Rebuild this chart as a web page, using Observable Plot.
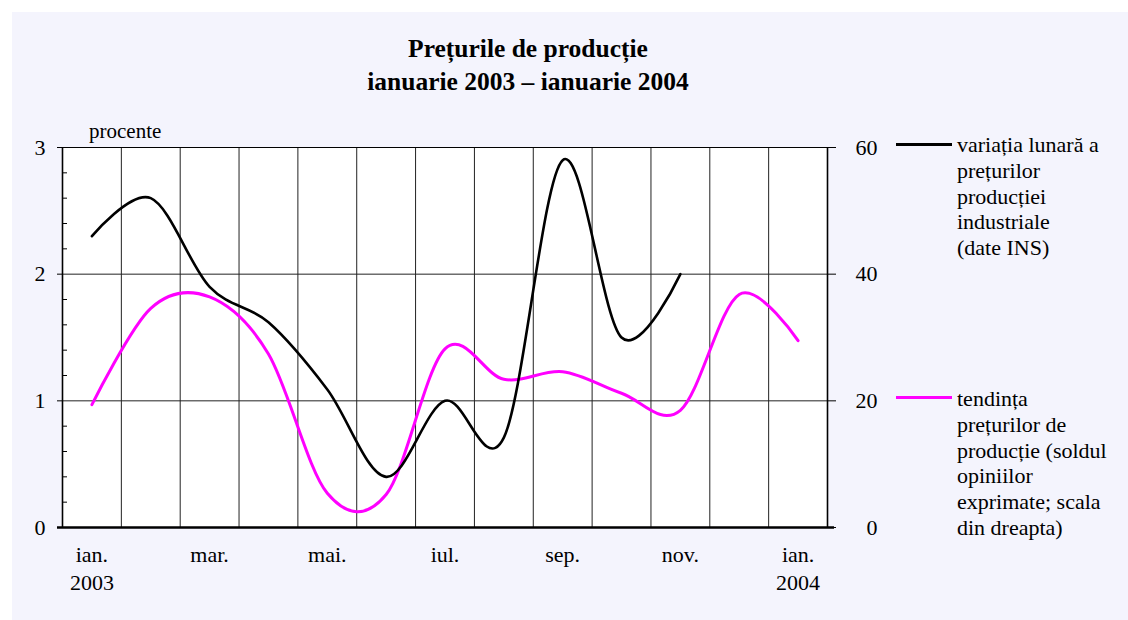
<!DOCTYPE html>
<html>
<head>
<meta charset="utf-8">
<script src="https://cdn.jsdelivr.net/npm/d3@7"></script>
<script src="https://cdn.jsdelivr.net/npm/@observablehq/plot@0.6"></script>
<style>
  html, body { margin: 0; padding: 0; background: #ffffff; }
  #wrap { position: relative; width: 1128px; height: 620px; overflow: hidden;
          font-family: "Liberation Serif", "Times New Roman", serif; color: #000; }
  #panel { position: absolute; left: 12px; top: 12px; right: 0; bottom: 0; background: #f4f4fd; }
  #chart { position: absolute; left: 0; top: 0; }
  #title { position: absolute; left: 228px; width: 600px; top: 32px; text-align: center;
           font-weight: bold; font-size: 25.5px; line-height: 33px; }
  #unit { position: absolute; left: 89px; top: 120px; font-size: 21px; line-height: 22px; }
  .legtext { position: absolute; left: 957px; font-size: 22px; line-height: 25.8px; width: 170px; white-space: nowrap; }
  .swatch { position: absolute; left: 896px; width: 56px; }
</style>
</head>
<body>
<div id="wrap">
  <div id="panel"></div>
  <div id="chart"></div>
  <div id="title"></div>
  <div id="unit"></div>
  <div class="swatch" id="sw1"></div>
  <div class="legtext" id="leg1"></div>
  <div class="swatch" id="sw2"></div>
  <div class="legtext" id="leg2"></div>
</div>
<script>
// ---- data ----
const months = ["ian.", "feb.", "mar.", "apr.", "mai.", "iun.", "iul.", "aug.", "sep.", "oct.", "nov.", "dec.", "ian."];
// variaţia lunară a preţurilor producţiei industriale (procente, scala din stânga), ian.–nov. 2003
const monthlyChange = [2.30, 2.60, 1.90, 1.62, 1.09, 0.40, 1.00, 0.71, 2.90, 1.50, 2.00];
// tendinţa preţurilor de producţie (soldul opiniilor, scala din dreapta), ian. 2003 – ian. 2004
const priceTrend = [19.4, 34.6, 36.4, 27.4, 5.4, 5.2, 28.2, 23.4, 24.6, 21.2, 18.5, 36.8, 29.5];
const leftTicks = [0, 1, 2, 3];
const leftMinor = [0.2, 0.4, 0.6, 0.8, 1.2, 1.4, 1.6, 1.8, 2.2, 2.4, 2.6, 2.8];
const rightTicks = [0, 20, 40, 60];
const xTickIndex = [0, 2, 4, 6, 8, 10, 12];
const xTickLabels = ["ian.\n2003", "mar.", "mai.", "iul.", "sep.", "nov.", "ian.\n2004"];
const titleLines = ["Prețurile de producție", "ianuarie 2003 – ianuarie 2004"];
const unitLabel = "procente";
const seriesNames = [
  ["variația lunară a", "prețurilor", "producției", "industriale", "(date INS)"],
  ["tendința", "prețurilor de", "producție (soldul", "opiniilor", "exprimate; scala", "din dreapta)"]
];
const seriesColors = ["#000000", "#ff00ff"];
const rightToLeft = 20; // right scale units per left scale unit

// ---- build ----
const boundaries = months.map((m, i) => i - 0.5).concat([months.length - 0.5]);
const blackData = monthlyChange.map((v, i) => ({i, v}));
const pinkData = priceTrend.map((v, i) => ({i, v}));

const chart = Plot.plot({
  width: 1128,
  height: 620,
  marginLeft: 62,
  marginRight: 301,
  marginTop: 147,
  marginBottom: 93,
  style: {background: "transparent", fontFamily: "'Liberation Serif', 'Times New Roman', serif", fontSize: "22px", color: "black"},
  x: {type: "linear", domain: [boundaries[0], boundaries[boundaries.length - 1]]},
  y: {type: "linear", domain: [0, 3]},
  marks: [
    Plot.frame({fill: "white", stroke: "none"}),
    Plot.ruleX(boundaries.slice(1, -1), {stroke: "#222", strokeWidth: 1}),
    Plot.ruleY([1, 2], {stroke: "#222", strokeWidth: 1}),
    Plot.ruleY([3], {stroke: "black", strokeWidth: 1.2}),
    Plot.ruleX([boundaries[0], boundaries[boundaries.length - 1]], {stroke: "black", strokeWidth: 1.6}),
    Plot.tickY(leftMinor, {y: d => d, insetRight: 760, stroke: "black", strokeWidth: 1}),
    Plot.axisY(leftTicks, {anchor: "left", tickSize: 5, tickPadding: 12, fontSize: 22, label: null, tickFormat: d => String(d)}),
    Plot.axisY(rightTicks.map(v => v / rightToLeft), {anchor: "right", tickSize: 8, tickPadding: 42, textAnchor: "end", fontSize: 22, label: null, tickFormat: d => String(Math.round(d * rightToLeft))}),
    Plot.axisX(xTickIndex, {tickSize: 0, tickPadding: 15, fontSize: 22, lineHeight: 1.27, label: null, tickFormat: d => xTickLabels[xTickIndex.indexOf(d)]}),
    Plot.ruleY([0], {stroke: "black", strokeWidth: 2.5, insetLeft: -5, insetRight: -7}),
    Plot.line(pinkData, {x: "i", y: d => d.v / rightToLeft, stroke: seriesColors[1], strokeWidth: 3, curve: "catmull-rom", tension: 0}),
    Plot.line(blackData, {x: "i", y: "v", stroke: seriesColors[0], strokeWidth: 2.6, curve: "catmull-rom", tension: 0})
  ]
});
document.getElementById("chart").appendChild(chart);

document.getElementById("title").innerHTML = titleLines.map(t => `<div>${t}</div>`).join("");
document.getElementById("unit").textContent = unitLabel;

const sw1 = document.getElementById("sw1");
sw1.style.top = "143px"; sw1.style.height = "2.5px"; sw1.style.background = seriesColors[0];
const sw2 = document.getElementById("sw2");
sw2.style.top = "395.5px"; sw2.style.height = "3px"; sw2.style.background = seriesColors[1];
const l1 = document.getElementById("leg1");
l1.style.top = "132px"; l1.innerHTML = seriesNames[0].map(t => `<div>${t}</div>`).join("");
const l2 = document.getElementById("leg2");
l2.style.top = "386px"; l2.innerHTML = seriesNames[1].map(t => `<div>${t}</div>`).join("");
</script>
</body>
</html>
